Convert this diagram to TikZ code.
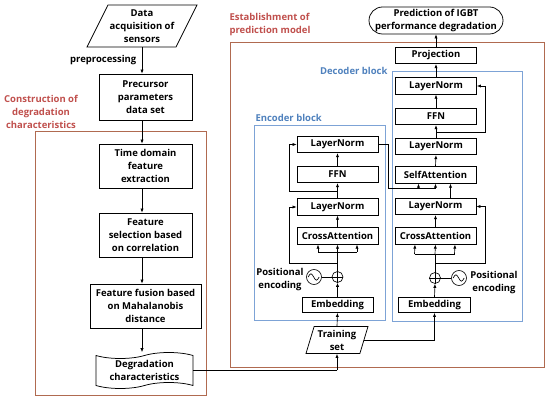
\documentclass[tikz,border=0pt]{standalone}
\usepackage{fontspec}
\setmainfont{Open Sans}
\usetikzlibrary{shapes.geometric,shapes.misc,shapes.symbols,arrows.meta}
\definecolor{redline}{HTML}{B06A50}
\definecolor{redtext}{HTML}{C0504D}
\definecolor{blueline}{HTML}{7DA3D6}
\definecolor{bluetext}{HTML}{4F81BD}
\begin{document}
\begin{tikzpicture}[x=1pt,y=-1pt,
  txt/.style={font=\bfseries\fontsize{9.5}{13}\selectfont, align=center},
  box/.style={txt, draw, line width=0.75pt, inner sep=1pt, fill=white},
  lbox/.style={box, minimum width=81, minimum height=16.5},
  arr/.style={-{Latex[length=4pt,width=3.2pt]}, line width=0.65pt},
  ln/.style={line width=0.65pt},
  grpred/.style={draw=redline, line width=0.8pt, inner sep=0},
  grpblue/.style={draw=blueline, line width=0.8pt, inner sep=0},
  circ/.style={draw, circle, inner sep=0, line width=0.65pt, fill=white}]
\useasboundingbox (0,0) rectangle (550,401);

% group frames
\node[grpred, minimum width=171, minimum height=264] (grpC) at (120.5,263) {};
\node[txt, text=redtext] (lblC) at (41,112) {Construction of\\degradation\\characteristics};
\node[grpred, minimum width=314, minimum height=325] (grpE) at (387,204.5) {};
\node[txt, text=redtext, align=left, anchor=west] (lblE) at (226,25) {Establishment of\\prediction model};
\node[grpblue, minimum width=131, minimum height=195] (encB) at (319.5,222.5) {};
\node[txt, text=bluetext, anchor=west] (lblEnc) at (252,118) {Encoder block};
\node[grpblue, minimum width=130, minimum height=250] (decB) at (457,196) {};
\node[txt, text=bluetext, anchor=east] (lblDec) at (391,71) {Decoder block};

% left column
\node[box, trapezium, trapezium left angle=59, trapezium right angle=121,
  trapezium stretches body, minimum width=110, minimum height=42] (data) at (142,26) {Data\\acquisition of\\sensors};
\node[box, minimum width=93, minimum height=46] (prec) at (145.5,97) {Precursor\\parameters\\data set};
\node[box, minimum width=93, minimum height=44] (time) at (145.5,166) {Time domain\\feature\\extraction};
\node[box, minimum width=93, minimum height=44] (fsel) at (145.5,235) {Feature\\selection based\\on correlation};
\node[box, minimum width=111, minimum height=44] (ffus) at (145.5,306) {Feature fusion based\\on Mahalanobis\\distance};
\node[box, tape, tape bend height=6, minimum width=97, minimum height=36] (degr) at (144.5,370.5) {Degradation\\characteristics};

\draw[arr] (data.south) -- (data.south |- prec.north) node[midway, txt, anchor=east, xshift=-2] (pre) {preprocessing};
\draw[arr] (prec.south -| data.south) -- (time.north -| data.south);
\draw[arr] (time.south -| data.south) -- (fsel.north -| data.south);
\draw[arr] (fsel.south -| data.south) -- (ffus.north -| data.south);
\draw[arr] (ffus.south -| data.south) -- ([yshift=3]degr.north -| data.south);

% top
\node[box, rounded rectangle, minimum width=136, minimum height=27] (pred) at (436,20.5) {Prediction of IGBT\\performance degradation};
\node[lbox] (proj) at (436,55.5) {Projection};

% encoder
\node[lbox] (lnE1) at (337.5,144.5) {LayerNorm};
\node[lbox] (ffnE) at (337.5,174.5) {FFN};
\node[lbox] (lnE2) at (337.5,207) {LayerNorm};
\node[lbox] (caE) at (337.5,236) {CrossAttention};
\node[box, minimum width=71, minimum height=15] (embE) at (337.5,305) {Embedding};
\node[circ, minimum size=11] (plE) at (337.5,277) {};
\draw[ln] (plE.north) -- (plE.south) (plE.west) -- (plE.east);
\node[circ, minimum size=15] (sinE) at (314,277) {};
\draw[ln] ([xshift=2]sinE.west) sin ++(2.75,-3.2) cos ++(2.75,3.2) sin ++(2.75,3.2) cos ++(2.75,-3.2);
\node[txt] (peE) at (280,279.5) {Positional\\encoding};
\draw[ln] (sinE.east) -- (plE.west);

% decoder
\node[lbox] (lnD1) at (436,86) {LayerNorm};
\node[lbox] (ffnD) at (436,116.5) {FFN};
\node[lbox] (lnD2) at (436,146.5) {LayerNorm};
\node[lbox] (saD) at (435.5,175) {SelfAttention};
\node[lbox] (lnD3) at (435.5,206.5) {LayerNorm};
\node[lbox] (caD) at (435.5,236) {CrossAttention};
\node[box, minimum width=72, minimum height=15] (embD) at (434.5,305) {Embedding};
\node[circ, minimum size=11] (plD) at (435,278) {};
\draw[ln] (plD.north) -- (plD.south) (plD.west) -- (plD.east);
\node[circ, minimum size=15] (sinD) at (459,278) {};
\draw[ln] ([xshift=2]sinD.west) sin ++(2.75,-3.2) cos ++(2.75,3.2) sin ++(2.75,3.2) cos ++(2.75,-3.2);
\node[txt] (peD) at (494,282.5) {Positional\\encoding};
\draw[ln] (plD.east) -- (sinD.west);

% training set
\node[box, trapezium, trapezium left angle=70, trapezium right angle=110,
  trapezium stretches body, minimum width=62, minimum height=27] (train) at (337,340) {Training\\set};

% coordinates
\coordinate (eJ) at (337.5,252);
\coordinate (eR1) at (337.5,263);
\coordinate (eR2) at (337.5,191);
\coordinate (dJ) at (435,254);
\coordinate (dR1) at (435,263);
\coordinate (dR2) at (436,132.5);
\coordinate (xJ) at (388,188);

% connectors: input side
\draw[ln] (degr.east) -- (degr.east -| train.south);
\draw[arr] (degr.east -| train.south) -- (train.south);
\draw[arr] (train.north) -- (embE.south);
\draw[ln] (train.east) -- (train.east -| embD.south);
\draw[arr] (train.east -| embD.south) -- (embD.south);

% encoder connectors
\draw[arr] (embE.north) -- (plE.south);
\draw[ln] (plE.north) -- (eJ);
\draw[ln] ([xshift=-19.5]eJ) -- ([xshift=19.5]eJ);
\draw[arr] ([xshift=-19.5]eJ) -- ([xshift=-19.5]caE.south);
\draw[arr] (eJ) -- (caE.south);
\draw[arr] ([xshift=19.5]eJ) -- ([xshift=19.5]caE.south);
\draw[arr] (eR1) -- ++(-48.5,0) |- (lnE2.west);
\draw[arr] (caE.north) -- (lnE2.south);
\draw[arr] (lnE2.north) -- (ffnE.south);
\draw[arr] (ffnE.north) -- (lnE1.south);
\draw[arr] (eR2) -- ++(-48.5,0) |- (lnE1.west);

% encoder to decoder
\draw[ln] (lnE1.east) -| (xJ) -- (xJ -| saD.south);
\draw[arr] ([xshift=-17]saD.south |- xJ) -- ([xshift=-17]saD.south);
\draw[arr] (saD.south |- xJ) -- (saD.south);
\draw[arr] ([xshift=15]lnD3.north) -- ([xshift=15]saD.south);

% decoder connectors
\draw[arr] (embD.north) -- (plD.south);
\draw[ln] (plD.north) -- (dJ);
\draw[ln] ([xshift=-20.5]dJ) -- ([xshift=19.5]dJ);
\draw[arr] ([xshift=-20.5]dJ) -- ([xshift=-20.5]caD.south);
\draw[arr] (dJ) -- (caD.south);
\draw[arr] ([xshift=19.5]dJ) -- ([xshift=19.5]caD.south);
\draw[arr] (dR1) -- ++(50,0) |- (lnD3.east);
\draw[arr] (caD.north) -- (lnD3.south);
\draw[arr] (saD.north) -- (lnD2.south);
\draw[arr] (lnD2.north) -- (ffnD.south);
\draw[arr] (ffnD.north) -- (lnD1.south);
\draw[arr] (dR2) -- ++(49,0) |- (lnD1.east);
\draw[arr] (lnD1.north) -- (proj.south);
\draw[arr] (proj.north) -- (pred.south);
\end{tikzpicture}
\end{document}
